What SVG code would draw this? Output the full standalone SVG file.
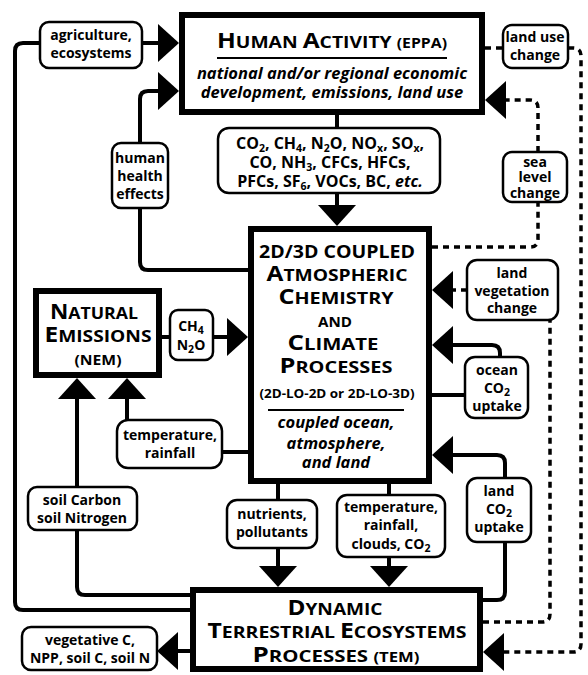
<svg xmlns="http://www.w3.org/2000/svg" xmlns:xlink="http://www.w3.org/1999/xlink" width="588" height="675" viewBox="0 0 588 675">
<style>
.box{fill:#fff;stroke:#000;stroke-width:6}
.lbl{fill:#fff;stroke:#000;stroke-width:2.5}
.ln{fill:none;stroke:#000;stroke-width:4}
.dash{fill:none;stroke:#000;stroke-width:3.5;stroke-dasharray:6 5}
.ah{fill:#000}
text{font-family:"Open Sans","Noto Sans",sans-serif;font-weight:700;text-anchor:middle;fill:#000}
.t{font-size:14px}
.e{font-size:16px}
.it{font-style:italic}
.sb{font-size:10.5px}
.big{font-size:21px}
.sm{font-size:16.5px}
.xs{font-size:13.5px}
</style>
<defs>
<path id="ah" class="ah" d="M0,0 L-21,-19 L-21,19 Z"/>
</defs>
<rect width="588" height="675" fill="#fff"/>

<g id="connectors">
<path class="ln" d="M40,43 H23 Q15,43 15,51 V602 Q15,610 23,610 H190"/>
<path class="ln" d="M142,43 H160"/>
<path class="ln" d="M250,270 H148 Q140,270 140,262 V208 M140,143 V99 Q140,91 148,91 H160"/>
<path class="ln" d="M337,115 V128 M337,193 V207"/>
<path class="ln" d="M162,337 H170 M213,337 H229"/>
<path class="ln" d="M77,398 V487 M77,530 V587 Q77,595 85,595 H190"/>
<path class="ln" d="M127,396 V420 M222,452 H248"/>
<path class="ln" d="M278,484 V500 M278,548 V568"/>
<path class="ln" d="M389,484 V495 M389,557 V568"/>
<path class="ln" d="M190,651 H176"/>
<path class="ln" d="M432,395 H465 M500,357 V353 Q500,345 492,345 H449"/>
<path class="ln" d="M483,600 H497 Q505,600 505,592 V542 M505,478 V463 Q505,455 497,455 H449"/>
<path class="dash" d="M485,48 H503"/>
<path class="dash" d="M568,48 H573 Q581,48 581,56 V644 Q581,652 573,652 H503"/>
<path class="dash" d="M432,247 H530 Q538,247 538,239 V202 M538,152 V108 Q538,100 530,100 H505"/>
<path class="dash" d="M483,622 H542 Q550,622 550,614 V320 M467,290 H451"/>
<use xlink:href="#ah" transform="translate(179,43)"/>
<use xlink:href="#ah" transform="translate(179,91)"/>
<use xlink:href="#ah" transform="translate(337,226) rotate(90)"/>
<use xlink:href="#ah" transform="translate(248,337)"/>
<use xlink:href="#ah" transform="translate(77,378) rotate(-90)"/>
<use xlink:href="#ah" transform="translate(127,378) rotate(-90)"/>
<use xlink:href="#ah" transform="translate(432,290) rotate(180)"/>
<use xlink:href="#ah" transform="translate(432,345) rotate(180)"/>
<use xlink:href="#ah" transform="translate(432,455) rotate(180)"/>
<use xlink:href="#ah" transform="translate(485,100) rotate(180)"/>
<use xlink:href="#ah" transform="translate(278,587) rotate(90)"/>
<use xlink:href="#ah" transform="translate(389,587) rotate(90)"/>
<use xlink:href="#ah" transform="translate(483,652) rotate(180)"/>
<use xlink:href="#ah" transform="translate(157,651) rotate(180)"/>
</g>

<g id="human-activity">
<rect class="box" x="182" y="15" width="300" height="97"/>
<text x="332" y="48" textLength="230" lengthAdjust="spacingAndGlyphs"><tspan class="big">H</tspan><tspan class="sm">UMAN </tspan><tspan class="big">A</tspan><tspan class="sm">CTIVITY </tspan><tspan class="xs">(EPPA)</tspan></text>
<line x1="217" y1="58" x2="447" y2="58" stroke="#000" stroke-width="2"/>
<text class="it" x="332" y="79" font-size="16.5">national and/or regional economic</text>
<text class="it" x="332" y="98" font-size="16.5">development, emissions, land use</text>
</g>

<g id="agriculture">
<rect class="lbl" x="40" y="22" width="102" height="46" rx="9"/>
<text class="t" x="91" y="40">agriculture,</text>
<text class="t" x="91" y="58">ecosystems</text>
</g>

<g id="health">
<rect class="lbl" x="112" y="143" width="56" height="65" rx="9"/>
<text class="t" x="140" y="163">human</text>
<text class="t" x="140" y="181">health</text>
<text class="t" x="140" y="199">effects</text>
</g>

<g id="emissions">
<rect class="lbl" x="218" y="128" width="222" height="65" rx="11"/>
<text class="e" x="330" y="149">CO<tspan class="sb" dy="3">2</tspan><tspan dy="-3">, CH</tspan><tspan class="sb" dy="3">4</tspan><tspan dy="-3">, N</tspan><tspan class="sb" dy="3">2</tspan><tspan dy="-3">O, NO</tspan><tspan class="sb" dy="3">x</tspan><tspan dy="-3">, SO</tspan><tspan class="sb" dy="3">x</tspan><tspan dy="-3">,</tspan></text>
<text class="e" x="330" y="168">CO, NH<tspan class="sb" dy="3">3</tspan><tspan dy="-3">, CFCs, HFCs,</tspan></text>
<text class="e" x="330" y="187">PFCs, SF<tspan class="sb" dy="3">6</tspan><tspan dy="-3">, VOCs, BC, </tspan><tspan class="it">etc.</tspan></text>
</g>

<g id="land-use">
<rect class="lbl" x="503" y="25" width="65" height="43" rx="9"/>
<text class="t" x="535" y="42">land use</text>
<text class="t" x="535" y="60">change</text>
</g>

<g id="sea-level">
<rect class="lbl" x="503" y="152" width="64" height="50" rx="9"/>
<text class="t" x="535" y="167">sea</text>
<text class="t" x="535" y="182">level</text>
<text class="t" x="535" y="198">change</text>
</g>

<g id="chemistry">
<rect class="box" x="251" y="229" width="178" height="252"/>
<text x="337" y="258" font-size="17.5" textLength="156" lengthAdjust="spacingAndGlyphs">2D/3D COUPLED</text>
<text x="337" y="281" textLength="141" lengthAdjust="spacingAndGlyphs"><tspan class="big">A</tspan><tspan class="sm">TMOSPHERIC</tspan></text>
<text x="336" y="304" textLength="115" lengthAdjust="spacingAndGlyphs"><tspan class="big">C</tspan><tspan class="sm">HEMISTRY</tspan></text>
<text x="335" y="327" font-size="14.5" textLength="34" lengthAdjust="spacingAndGlyphs">AND</text>
<text x="333" y="350" textLength="91" lengthAdjust="spacingAndGlyphs"><tspan class="big">C</tspan><tspan class="sm">LIMATE</tspan></text>
<text x="336" y="373" textLength="113" lengthAdjust="spacingAndGlyphs"><tspan class="big">P</tspan><tspan class="sm">ROCESSES</tspan></text>
<text x="337" y="398" font-size="12.5" textLength="155" lengthAdjust="spacingAndGlyphs">(2D-LO-2D or 2D-LO-3D)</text>
<line x1="268" y1="410" x2="404" y2="410" stroke="#000" stroke-width="2"/>
<text class="it" x="336" y="428" font-size="16.5">coupled ocean,</text>
<text class="it" x="336" y="449" font-size="16.5">atmosphere,</text>
<text class="it" x="336" y="468" font-size="16.5">and land</text>
</g>

<g id="land-veg">
<rect class="lbl" x="467" y="260" width="91" height="60" rx="10"/>
<text class="t" x="512" y="278">land</text>
<text class="t" x="512" y="296">vegetation</text>
<text class="t" x="512" y="313">change</text>
</g>

<g id="nem">
<rect class="box" x="36" y="291" width="123" height="84"/>
<text x="94" y="319" textLength="88" lengthAdjust="spacingAndGlyphs"><tspan class="big">N</tspan><tspan class="sm">ATURAL</tspan></text>
<text x="98" y="342" textLength="107" lengthAdjust="spacingAndGlyphs"><tspan class="big">E</tspan><tspan class="sm">MISSIONS</tspan></text>
<text x="98" y="365" font-size="14" textLength="47" lengthAdjust="spacingAndGlyphs">(NEM)</text>
</g>

<g id="ch4-n2o">
<rect class="lbl" x="170" y="310" width="43" height="50" rx="8"/>
<text class="t" x="191" y="331">CH<tspan class="sb" dy="3">4</tspan></text>
<text class="t" x="191" y="350">N<tspan class="sb" dy="3">2</tspan><tspan dy="-3">O</tspan></text>
</g>

<g id="ocean">
<rect class="lbl" x="465" y="357" width="63" height="61" rx="10"/>
<text class="t" x="497" y="375">ocean</text>
<text class="t" x="497" y="393">CO<tspan class="sb" dy="3">2</tspan></text>
<text class="t" x="497" y="411">uptake</text>
</g>

<g id="temp-rain">
<rect class="lbl" x="117" y="420" width="105" height="48" rx="11"/>
<text class="t" x="170" y="440">temperature,</text>
<text class="t" x="170" y="458">rainfall</text>
</g>

<g id="land-co2">
<rect class="lbl" x="467" y="478" width="64" height="64" rx="10"/>
<text class="t" x="499" y="496">land</text>
<text class="t" x="499" y="514">CO<tspan class="sb" dy="3">2</tspan></text>
<text class="t" x="499" y="532">uptake</text>
</g>

<g id="soil">
<rect class="lbl" x="28" y="487" width="109" height="43" rx="9"/>
<text class="t" x="82" y="505">soil Carbon</text>
<text class="t" x="82" y="523">soil Nitrogen</text>
</g>

<g id="nutrients">
<rect class="lbl" x="227" y="500" width="90" height="48" rx="10"/>
<text class="t" x="272" y="519">nutrients,</text>
<text class="t" x="272" y="537">pollutants</text>
</g>

<g id="temp-clouds">
<rect class="lbl" x="337" y="495" width="108" height="62" rx="10"/>
<text class="t" x="391" y="512">temperature,</text>
<text class="t" x="391" y="530">rainfall,</text>
<text class="t" x="391" y="549">clouds, CO<tspan class="sb" dy="3">2</tspan></text>
</g>

<g id="tem">
<rect class="box" x="193" y="590" width="287" height="79"/>
<text x="335" y="615" textLength="95" lengthAdjust="spacingAndGlyphs"><tspan class="big">D</tspan><tspan class="sm">YNAMIC</tspan></text>
<text x="337" y="638" textLength="259" lengthAdjust="spacingAndGlyphs"><tspan class="big">T</tspan><tspan class="sm">ERRESTRIAL </tspan><tspan class="big">E</tspan><tspan class="sm">COSYSTEMS</tspan></text>
<text x="336" y="662" textLength="167" lengthAdjust="spacingAndGlyphs"><tspan class="big">P</tspan><tspan class="sm">ROCESSES </tspan><tspan class="xs">(TEM)</tspan></text>
</g>

<g id="vegetative">
<rect class="lbl" x="22" y="627" width="135" height="43" rx="9"/>
<text class="t" x="90" y="645">vegetative C,</text>
<text class="t" x="90" y="663">NPP, soil C, soil N</text>
</g>
</svg>
